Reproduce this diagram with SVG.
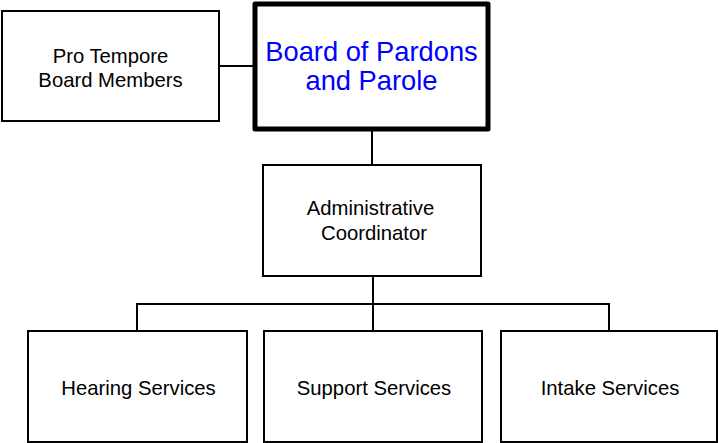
<svg xmlns="http://www.w3.org/2000/svg" width="719" height="443" viewBox="0 0 719 443">
<style>
.box{fill:#fff;stroke:#000;stroke-width:2}
.main{fill:#fff;stroke:#000;stroke-width:5;stroke-linejoin:round}
.t{font-family:"Liberation Sans",Arial,sans-serif;font-size:20.3px;fill:#000;text-anchor:middle}
.tm{font-family:"Liberation Sans",Arial,sans-serif;font-size:27.3px;fill:#0000ff;text-anchor:middle}
.c{fill:none;stroke:#000;stroke-width:2}
</style>
<rect width="719" height="443" fill="#fff"/>
<g id="connectors">
<path class="c" d="M219 66H255"/>
<path class="c" d="M372 129V165"/>
<path class="c" d="M373 276V331"/>
<path class="c" d="M137 331V304H609V331"/>
</g>
<g id="pro-tempore">
<rect class="box" x="2" y="11" width="217" height="110"/>
<text class="t" x="110.5" y="63">Pro Tempore</text>
<text class="t" x="110.5" y="87">Board Members</text>
</g>
<g id="board">
<rect class="main" x="255" y="4" width="233" height="125"/>
<text class="tm" x="371.5" y="61">Board of Pardons</text>
<text class="tm" x="371.5" y="90">and Parole</text>
</g>
<g id="admin">
<rect class="box" x="263" y="165" width="218" height="111"/>
<text class="t" x="370.5" y="215">Administrative</text>
<text class="t" x="374" y="240">Coordinator</text>
</g>
<g id="hearing">
<rect class="box" x="28" y="331" width="219" height="111"/>
<text class="t" x="138.5" y="395">Hearing Services</text>
</g>
<g id="support">
<rect class="box" x="264" y="331" width="218" height="111"/>
<text class="t" x="374" y="395">Support Services</text>
</g>
<g id="intake">
<rect class="box" x="501" y="331" width="216" height="111"/>
<text class="t" x="610" y="395">Intake Services</text>
</g>
</svg>
